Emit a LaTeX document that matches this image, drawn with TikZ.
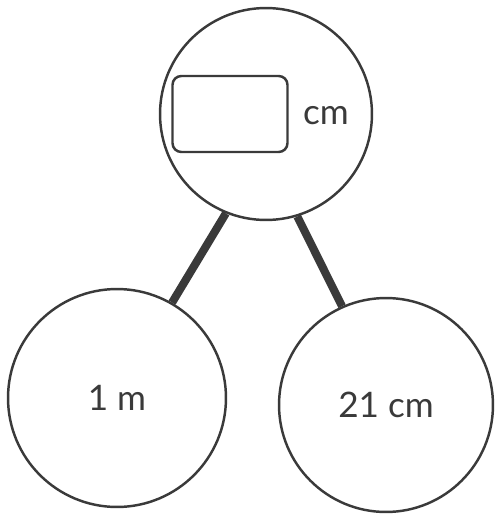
\documentclass[tikz,border=0pt]{standalone}
\usepackage{fontspec}
\setmainfont{Lato}
\usetikzlibrary{positioning}
\definecolor{ink}{HTML}{3a3a3a}

\begin{document}
\begin{tikzpicture}[x=0.02cm, y=-0.02cm,
  every node/.style={font=\fontsize{20}{24}\selectfont, text=ink},
  ball/.style={circle, draw=ink, line width=1.4pt, inner sep=0pt},
  stick/.style={draw=ink, line width=4.6pt}]
  \useasboundingbox (0,0) rectangle (495,518);

  % Circles
  \node[ball, minimum size=4.24cm] (whole) at (266,114) {};
  \node[ball, minimum size=4.36cm] (partA) at (117,398) {1 m};
  \node[ball, minimum size=4.28cm] (partB) at (386,405) {21 cm};

  % Answer box
  \node[draw=ink, line width=1.4pt, rounded corners=5pt, minimum width=2.3cm, minimum height=1.52cm] (blank) at (230,114) {};
  \node (unit) at (326,116) {cm};

  % Links
  \draw[stick] (whole.248) -- (partA.60);
  \draw[stick] (whole.287) -- (partB.114);
\end{tikzpicture}
\end{document}
